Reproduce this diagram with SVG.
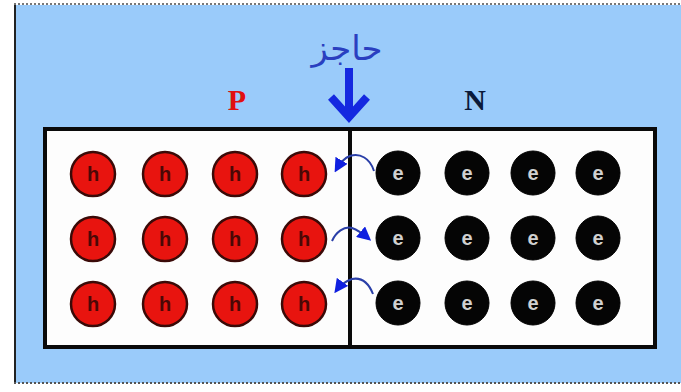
<svg xmlns="http://www.w3.org/2000/svg" width="681" height="392" viewBox="0 0 681 392">
<defs>
<style>
.h{fill:#e8140f;stroke:#3a0a08;stroke-width:2.5}
.e{fill:#050505;stroke:#000;stroke-width:1}
.ht{font-family:"Liberation Sans",Arial,sans-serif;font-weight:bold;font-size:20px;fill:#4a0806;text-anchor:middle}
.et{font-family:"Liberation Sans",Arial,sans-serif;font-weight:bold;font-size:20px;fill:#d0d0d0;text-anchor:middle}
.arc{fill:none;stroke:#2a3fa8;stroke-width:2}
</style>
<marker id="ah" viewBox="0 0 10 10" refX="8" refY="5" markerWidth="7" markerHeight="7" orient="auto-start-reverse" markerUnits="strokeWidth">
<path d="M0,0 L10,5 L0,10 Z" fill="#1020e0"/>
</marker>
</defs>
<rect x="0" y="0" width="681" height="392" fill="#ffffff"/>
<rect x="14" y="5" width="667" height="378" fill="#9acbfa"/>
<line x1="14" y1="4" x2="681" y2="4" stroke="#777" stroke-width="2" stroke-dasharray="2,2"/>
<line x1="15" y1="5" x2="15" y2="383" stroke="#222" stroke-width="2"/>
<line x1="14" y1="383" x2="681" y2="383" stroke="#555" stroke-width="2" stroke-dasharray="2,2"/>
<g id="box">
<rect x="45" y="129" width="610" height="218" fill="#fdfdfd" stroke="#0a0a0a" stroke-width="4"/>
<line x1="350" y1="127" x2="350" y2="349" stroke="#0a0a0a" stroke-width="4"/>
</g>
<g id="label-barrier">
<text x="347" y="60" font-family="'DejaVu Sans',sans-serif" font-size="34" fill="#2a3fc0" text-anchor="middle">حاجز</text>
</g>
<g id="barrier-arrow">
<line x1="349" y1="68" x2="349" y2="114" stroke="#1428e0" stroke-width="8"/>
<path d="M331,97 L349,117 L367,97" fill="none" stroke="#1428e0" stroke-width="8" stroke-linejoin="miter"/>
</g>
<g id="label-P"><text x="237" y="110" font-family="'Liberation Serif',serif" font-weight="bold" font-size="30" fill="#e01010" text-anchor="middle">P</text></g>
<g id="label-N"><text x="475" y="110" font-family="'Liberation Serif',serif" font-weight="bold" font-size="30" fill="#0a1a3a" text-anchor="middle">N</text></g>
<g id="holes">
<g id="h11"><circle class="h" cx="93" cy="174" r="22"/><text class="ht" x="93" y="181">h</text></g>
<g id="h12"><circle class="h" cx="165" cy="174" r="22"/><text class="ht" x="165" y="181">h</text></g>
<g id="h13"><circle class="h" cx="235" cy="174" r="22"/><text class="ht" x="235" y="181">h</text></g>
<g id="h14"><circle class="h" cx="304" cy="174" r="22"/><text class="ht" x="304" y="181">h</text></g>
<g id="h21"><circle class="h" cx="93" cy="239" r="22"/><text class="ht" x="93" y="246">h</text></g>
<g id="h22"><circle class="h" cx="165" cy="239" r="22"/><text class="ht" x="165" y="246">h</text></g>
<g id="h23"><circle class="h" cx="235" cy="239" r="22"/><text class="ht" x="235" y="246">h</text></g>
<g id="h24"><circle class="h" cx="304" cy="239" r="22"/><text class="ht" x="304" y="246">h</text></g>
<g id="h31"><circle class="h" cx="93" cy="304" r="22"/><text class="ht" x="93" y="311">h</text></g>
<g id="h32"><circle class="h" cx="165" cy="304" r="22"/><text class="ht" x="165" y="311">h</text></g>
<g id="h33"><circle class="h" cx="235" cy="304" r="22"/><text class="ht" x="235" y="311">h</text></g>
<g id="h34"><circle class="h" cx="304" cy="304" r="22"/><text class="ht" x="304" y="311">h</text></g>
</g>
<g id="electrons">
<g id="e11"><circle class="e" cx="398" cy="173" r="22"/><text class="et" x="398" y="180">e</text></g>
<g id="e12"><circle class="e" cx="467" cy="173" r="22"/><text class="et" x="467" y="180">e</text></g>
<g id="e13"><circle class="e" cx="533" cy="173" r="22"/><text class="et" x="533" y="180">e</text></g>
<g id="e14"><circle class="e" cx="598" cy="173" r="22"/><text class="et" x="598" y="180">e</text></g>
<g id="e21"><circle class="e" cx="398" cy="238" r="22"/><text class="et" x="398" y="245">e</text></g>
<g id="e22"><circle class="e" cx="467" cy="238" r="22"/><text class="et" x="467" y="245">e</text></g>
<g id="e23"><circle class="e" cx="533" cy="238" r="22"/><text class="et" x="533" y="245">e</text></g>
<g id="e24"><circle class="e" cx="598" cy="238" r="22"/><text class="et" x="598" y="245">e</text></g>
<g id="e31"><circle class="e" cx="398" cy="303" r="22"/><text class="et" x="398" y="310">e</text></g>
<g id="e32"><circle class="e" cx="467" cy="303" r="22"/><text class="et" x="467" y="310">e</text></g>
<g id="e33"><circle class="e" cx="533" cy="303" r="22"/><text class="et" x="533" y="310">e</text></g>
<g id="e34"><circle class="e" cx="598" cy="303" r="22"/><text class="et" x="598" y="310">e</text></g>
</g>
<g id="connectors">
<path class="arc" d="M374,171 C370,158 360,153 350,156 C344,158 340,163 336,170" marker-end="url(#ah)"/>
<path class="arc" d="M332,241 C336,232 344,226 352,228 C358,230 362,233 369,239" marker-end="url(#ah)"/>
<path class="arc" d="M373,294 C369,284 362,277 352,279 C346,281 341,284 336,291" marker-end="url(#ah)"/>
</g>
</svg>
